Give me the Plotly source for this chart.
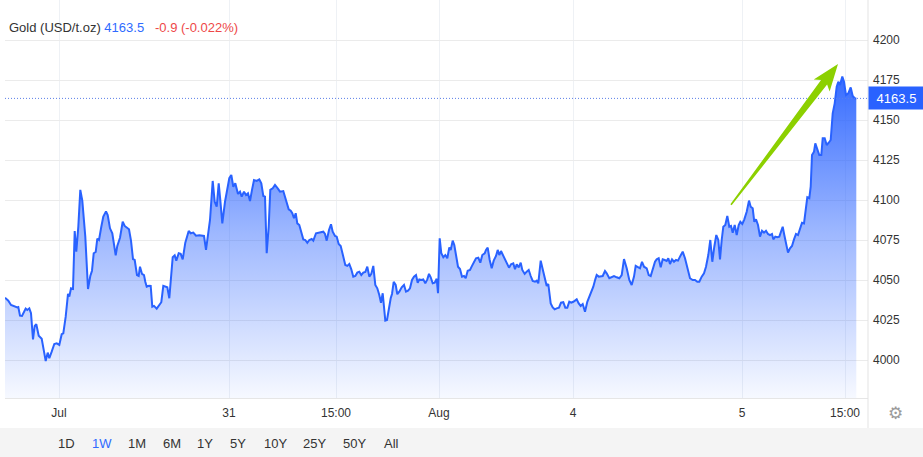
import numpy as np
import plotly.graph_objects as go

# ---------------- data ----------------
# position along the (trading-time) axis
t = [5, 8.3, 11, 13.3, 15, 17.3, 18.3, 20, 22, 24, 25.7, 27.3, 29.3, 31, 33, 34.7, 36.3, 38.7, 41.7, 43.7,
     45.7, 47.7, 49.3, 51.7, 54.3, 56.7, 59.3, 61.7, 63.3, 65.7, 68, 69.3, 71, 73, 74.7, 76.3, 78.3, 80.3, 82.3, 85.3,
     88, 90.3, 92, 93.7, 95.7, 97.3, 99, 101.3, 103.3, 106, 107.7, 110, 112.3, 115.7, 117.3, 120, 122.7, 124.7, 126.7, 129,
     131, 133, 134.7, 137, 138.7, 140, 142, 144, 145.3, 146.7, 149, 150.7, 152.3, 154, 156.7, 159.3, 161.3, 163.3, 166, 167.3,
     169.3, 171, 172.7, 174.7, 176.3, 178.7, 180.7, 182.7, 185.3, 188.7, 190.7, 193.3, 196, 199.3, 201.7, 204, 206, 208, 210, 212.7,
     214.7, 216.7, 218.7, 220.3, 222.3, 225, 227.3, 229.3, 231.3, 233.3, 235.3, 238, 240, 241.7, 244, 246, 248, 250, 252, 254,
     256.7, 259.3, 261.3, 263.3, 265, 266.7, 268.7, 270.3, 272.7, 275, 277.7, 280, 283.3, 286, 288.7, 290.7, 292.3, 294, 295.7, 297.3,
     299.3, 303.3, 305.3, 307.3, 309.3, 311.7, 313.3, 316, 318.3, 320.7, 323.3, 325, 326.7, 329, 331, 332.7, 335, 336.7, 338.7, 340.7,
     343.3, 345.3, 347.3, 349.3, 351.3, 353.3, 355.3, 357.3, 359.3, 361.3, 363.3, 365.3, 367.3, 369.3, 371.3, 373.3, 375.3, 377.3, 379.3, 381,
     382.7, 384.3, 385.3, 387, 388.7, 390.7, 392, 393.7, 395.7, 397.3, 399.3, 401.7, 404, 406, 408, 410, 412, 414, 416, 417.7,
     419.3, 421.3, 423.3, 425.3, 427.3, 429, 430.7, 432.7, 434.7, 436.7, 438, 439.7, 441.3, 443.3, 445.3, 447.3, 449.3, 450.7, 452.7, 454.3,
     456, 458, 460, 462, 464, 465.7, 467.7, 470, 472, 474, 476, 478.3, 480.3, 482.3, 484.7, 486, 487.7, 489.7, 491.7, 493.7,
     496, 497.7, 499.3, 501, 503.3, 505.3, 507.3, 509, 511, 513.3, 515, 516.7, 518.7, 520.7, 522.3, 524.7, 526.7, 528.7, 530.7, 532.7,
     535, 536.7, 538.3, 540.7, 542.7, 544.7, 546.7, 548.3, 550.7, 552.7, 554.7, 556.7, 559, 561, 563.3, 565.3, 567.3, 569.3, 571.3, 573.3,
     575.3, 576.7, 578.7, 580.7, 582.7, 585, 587.3, 589.3, 591.3, 593.3, 595.3, 596.7, 598.7, 600, 602.7, 605, 606.7, 609.3, 611.7, 614,
     616.7, 619.3, 621.7, 624, 626.7, 629.3, 631.7, 634, 635.7, 637.7, 640, 642, 644, 646.7, 648.7, 650.7, 652.7, 655, 656.7, 658.7,
     660.7, 662.7, 664.7, 666.7, 668.3, 670, 672, 674, 676, 678, 680, 682.7, 685, 687.3, 690, 692.7, 695, 697.3, 699.3, 701.7,
     704, 706, 708.3, 710.3, 712.3, 714.3, 716.3, 718.3, 720, 721.7, 723.3, 725.3, 727.3, 729.3, 731, 732.7, 734.7, 736.7, 738.7, 740.3,
     742.3, 744.3, 746.7, 749, 750.7, 752.7, 754.3, 756, 758, 760, 762, 764, 766, 768, 770, 772, 773.3, 775.3, 777.3, 779.3,
     781.3, 782.7, 784.3, 786, 788, 790, 792, 794, 796, 798, 800, 802, 804, 805.7, 807.3, 809.3, 810.7, 812, 814, 815.3,
     817.3, 819.3, 821.3, 822.7, 824.7, 826.7, 828.7, 830.7, 832.7, 834.7, 836.7, 838.3, 840, 842.3, 844, 846, 848.3, 850.7, 852.7, 854.7,
     856.3]

price = [4038.9, 4037.1, 4034.4, 4033.8, 4033.3, 4032.9, 4033.1, 4027.7, 4027.5, 4029.6, 4032.1, 4031.3, 4032.3, 4029.2, 4012.9, 4021.3, 4022.3, 4015.2, 4013.3, 4006.3,
         3999.4, 4004.6, 4001.1, 4005.2, 4010.0, 4010.4, 4009.4, 4016.1, 4016.7, 4027.1, 4041.3, 4039.6, 4044.8, 4044.4, 4080.6, 4067.7, 4083.3, 4106.3, 4099.6, 4077.1,
         4044.4, 4052.5, 4055.8, 4066.7, 4067.5, 4075.8, 4075.0, 4083.3, 4089.6, 4092.9, 4090.6, 4082.3, 4079.2, 4065.4, 4071.3, 4076.4, 4086.4, 4083.8, 4082.9, 4081.7,
         4074.6, 4063.1, 4062.5, 4053.1, 4052.5, 4058.3, 4053.8, 4053.1, 4048.9, 4045.8, 4046.4, 4046.3, 4033.3, 4033.8, 4032.1, 4034.4, 4036.1, 4046.3, 4045.8, 4045.4,
         4038.6, 4052.1, 4064.2, 4065.4, 4062.1, 4066.7, 4066.3, 4062.9, 4073.3, 4080.6, 4079.2, 4079.6, 4077.7, 4077.9, 4077.5, 4077.5, 4068.8, 4077.1, 4087.5, 4111.9,
         4098.9, 4095.8, 4110.4, 4100.0, 4085.4, 4098.9, 4108.3, 4113.6, 4115.6, 4108.3, 4110.4, 4103.8, 4105.2, 4102.1, 4105.2, 4103.1, 4104.2, 4099.4, 4106.3, 4112.5,
         4111.9, 4112.9, 4110.4, 4102.5, 4102.1, 4066.7, 4083.3, 4106.3, 4107.3, 4109.4, 4107.3, 4105.2, 4105.6, 4100.0, 4094.2, 4093.3, 4091.7, 4088.6, 4091.7, 4085.4,
         4084.4, 4075.4, 4075.0, 4073.3, 4075.0, 4075.6, 4074.6, 4079.2, 4079.6, 4080.2, 4080.2, 4078.8, 4074.6, 4081.3, 4084.8, 4080.2, 4077.5, 4077.1, 4072.5, 4071.3,
         4063.6, 4059.4, 4058.8, 4060.0, 4056.7, 4052.1, 4052.5, 4054.6, 4055.2, 4053.1, 4054.6, 4055.0, 4058.3, 4052.1, 4053.8, 4058.8, 4046.9, 4044.8, 4040.6, 4035.8,
         4041.7, 4031.3, 4024.6, 4025.0, 4032.3, 4038.6, 4041.3, 4048.8, 4046.9, 4041.1, 4042.7, 4045.4, 4046.9, 4042.7, 4043.3, 4044.8, 4050.0, 4052.1, 4053.1, 4048.3,
         4050.4, 4050.0, 4050.4, 4047.9, 4050.4, 4053.8, 4051.7, 4047.9, 4048.3, 4050.8, 4041.7, 4076.1, 4066.7, 4064.2, 4065.6, 4063.6, 4070.4, 4068.8, 4074.6, 4071.9,
         4065.6, 4058.3, 4056.9, 4052.1, 4052.5, 4051.1, 4055.8, 4056.3, 4058.8, 4061.3, 4063.6, 4064.0, 4060.8, 4065.6, 4066.7, 4068.8, 4070.2, 4062.5, 4057.3, 4062.1,
         4065.0, 4068.8, 4065.6, 4068.1, 4065.0, 4062.9, 4060.4, 4057.7, 4059.8, 4060.4, 4056.7, 4059.8, 4057.9, 4060.8, 4056.3, 4053.8, 4055.2, 4056.3, 4052.5, 4049.4,
         4048.9, 4049.6, 4047.9, 4062.1, 4056.7, 4052.1, 4046.3, 4047.5, 4035.4, 4032.9, 4031.7, 4032.3, 4032.7, 4035.8, 4036.1, 4032.7, 4032.7, 4036.4, 4035.8, 4036.4,
         4037.5, 4037.9, 4035.4, 4033.8, 4035.0, 4030.2, 4036.4, 4039.6, 4042.7, 4045.8, 4050.4, 4053.1, 4052.1, 4052.1, 4052.5, 4055.6, 4054.2, 4051.1, 4052.1, 4052.5,
         4051.7, 4051.1, 4053.1, 4063.1, 4057.3, 4050.0, 4046.9, 4052.1, 4058.8, 4058.3, 4057.3, 4061.4, 4058.3, 4057.3, 4053.1, 4052.5, 4057.3, 4061.4, 4062.9, 4063.6,
         4057.9, 4062.9, 4062.5, 4061.9, 4063.6, 4060.0, 4062.9, 4061.4, 4062.5, 4062.1, 4064.6, 4067.7, 4063.6, 4057.3, 4051.1, 4050.0, 4050.0, 4048.9, 4048.9, 4052.1,
         4054.2, 4058.3, 4065.6, 4075.0, 4061.4, 4070.8, 4078.1, 4075.0, 4062.9, 4075.0, 4083.3, 4084.4, 4090.0, 4083.3, 4083.8, 4079.6, 4084.4, 4078.1, 4084.4, 4086.4,
         4085.0, 4087.9, 4092.7, 4099.6, 4095.8, 4094.8, 4086.4, 4087.9, 4084.4, 4077.1, 4080.8, 4079.6, 4080.8, 4078.8, 4078.1, 4078.8, 4075.4, 4077.1, 4076.7, 4077.1,
         4080.2, 4083.3, 4078.1, 4073.3, 4067.1, 4069.8, 4071.3, 4075.4, 4078.8, 4078.1, 4082.3, 4085.8, 4085.4, 4095.8, 4101.7, 4101.1, 4108.3, 4128.1, 4130.2, 4135.4,
         4132.3, 4128.1, 4128.1, 4138.6, 4138.6, 4134.4, 4135.8, 4137.5, 4154.2, 4160.4, 4170.8, 4173.9, 4171.9, 4177.1, 4173.9, 4165.6, 4166.7, 4170.4, 4165.0, 4163.6,
         4163.5]

instrument = "Gold (USD/t.oz)"
last_price = 4163.5
change = -0.9
change_pct = -0.022

x_tickvals = [59, 229, 336, 439, 573, 742, 845]
x_ticktext = ["Jul", "31", "15:00", "Aug", "4", "5", "15:00"]
y_tickvals = [4000, 4025, 4050, 4075, 4100, 4125, 4150, 4175, 4200]

range_buttons = ["1D", "1W", "1M", "6M", "1Y", "5Y", "10Y", "25Y", "50Y", "All"]
active_button = "1W"

# trend arrow, in axis units (tail -> tip)
arrow_tail = (731, 4097.0)
arrow_tip = (838, 4185.0)

# ---------------- layout constants ----------------
W, H = 923, 457
ML, MR, MT, MB = 5, 55, 0, 59
PW, PH = W - ML - MR, H - MT - MB
X_RANGE = [5, 868]
Y_RANGE = [3976.25, 4225]

BLUE = "#2962ff"
FONT = "Liberation Sans, Arial, sans-serif"

def px_to_paper_x(px):
    return (px - ML) / PW

def py_to_paper_y(py):
    return (H - MB - py) / PH

fig = go.Figure()
fig.add_trace(go.Scatter(
    x=t, y=price, mode="lines",
    line=dict(color=BLUE, width=2),
    fill="tozeroy",
    fillgradient=dict(
        type="vertical",
        start=Y_RANGE[0], stop=4180,
        colorscale=[[0, "rgba(41,98,255,0.04)"], [0.5, "rgba(41,98,255,0.45)"], [1, "rgba(41,98,255,0.95)"]],
    ),
    hoverinfo="skip",
))

# --- trend arrow as tapered polygon (computed in screen-proportional space) ---
sx = PW / (X_RANGE[1] - X_RANGE[0])
sy = PH / (Y_RANGE[1] - Y_RANGE[0])
T = np.array([arrow_tail[0] * sx, arrow_tail[1] * sy])
P = np.array([arrow_tip[0] * sx, arrow_tip[1] * sy])
d = P - T
L = np.linalg.norm(d)
u = d / L
n = np.array([-u[1], u[0]])
head_len, head_half, shaft_tail, shaft_head = 27, 10, 0.8, 3.8
B = P - head_len * u
J = B + 4 * u
pts = [T + shaft_tail * n, J + shaft_head * n, B + head_half * n, P,
       B - head_half * n, J - shaft_head * n, T - shaft_tail * n]
path = "M " + " L ".join(f"{p[0] / sx:.3f},{p[1] / sy:.3f}" for p in pts) + " Z"

shapes = [
    # last price dotted line
    dict(type="line", xref="paper", yref="y", x0=0, x1=1, y0=last_price, y1=last_price,
         line=dict(color="#5b7fe8", width=1, dash="1px,2px"), layer="above"),
    # arrow
    dict(type="path", xref="x", yref="y", path=path, fillcolor="#8cd000",
         line=dict(width=0), layer="above"),
    # bottom button bar
    dict(type="rect", xref="paper", yref="paper",
         x0=px_to_paper_x(0), x1=px_to_paper_x(W), y0=py_to_paper_y(428), y1=py_to_paper_y(H + 2),
         fillcolor="#f4f4f4", line=dict(width=0), layer="below"),
    # right separator
    dict(type="line", xref="paper", yref="paper", x0=1, x1=1, y0=py_to_paper_y(428), y1=1,
         line=dict(color="#e3e3e3", width=1)),
]

annotations = [
    dict(xref="paper", yref="paper", x=px_to_paper_x(7), y=py_to_paper_y(28), xanchor="left", yanchor="middle",
         showarrow=False, font=dict(family=FONT, size=13, color="#333333"),
         text=(f"{instrument} <span style='color:#2f6bff'>{last_price}</span>&nbsp;&nbsp;&nbsp;"
               f"<span style='color:#ee4848'>{change} ({change_pct:.3f}%)</span>")),
    dict(xref="paper", yref="y", x=1, y=last_price, xanchor="left", yanchor="middle",
         showarrow=False, text=f"{last_price}", bgcolor=BLUE, borderpad=2, width=51, height=18,
         font=dict(family=FONT, size=13, color="white")),
    dict(xref="paper", yref="paper", x=px_to_paper_x(895), y=py_to_paper_y(413), xanchor="center", yanchor="middle",
         showarrow=False, text="\u2699", font=dict(family="DejaVu Sans", size=17, color="#9a9a9a")),
]

button_px = [66.5, 102, 137, 172, 205, 238, 275, 314, 354, 391]
for label, bx in zip(range_buttons, button_px):
    annotations.append(dict(
        xref="paper", yref="paper", x=px_to_paper_x(bx), y=py_to_paper_y(443),
        xanchor="center", yanchor="middle", showarrow=False, text=label,
        font=dict(family=FONT, size=13, color="#2f6bff" if label == active_button else "#333333")))

fig.update_layout(
    width=W, height=H,
    margin=dict(l=ML, r=MR, t=MT, b=MB, pad=0),
    paper_bgcolor="white", plot_bgcolor="white",
    showlegend=False,
    shapes=shapes, annotations=annotations,
    xaxis=dict(range=X_RANGE, tickvals=x_tickvals, ticktext=x_ticktext,
               showgrid=True, gridcolor="#eef1f5", gridwidth=1,
               showline=True, linecolor="#e6e6e6", linewidth=1,
               ticks="", ticklabelstandoff=4,
               tickfont=dict(family=FONT, size=12, color="#333333"), zeroline=False,
               fixedrange=True),
    yaxis=dict(range=Y_RANGE, side="right", tickvals=y_tickvals,
               showgrid=True, gridcolor="#ebebeb", gridwidth=1,
               ticks="", ticklabelstandoff=4,
               tickfont=dict(family=FONT, size=12, color="#333333"), zeroline=False,
               fixedrange=True),
)

fig.write_html("out.html", config={"displayModeBar": False},
               post_script="document.body.style.margin='0';document.body.style.overflow='hidden';")
